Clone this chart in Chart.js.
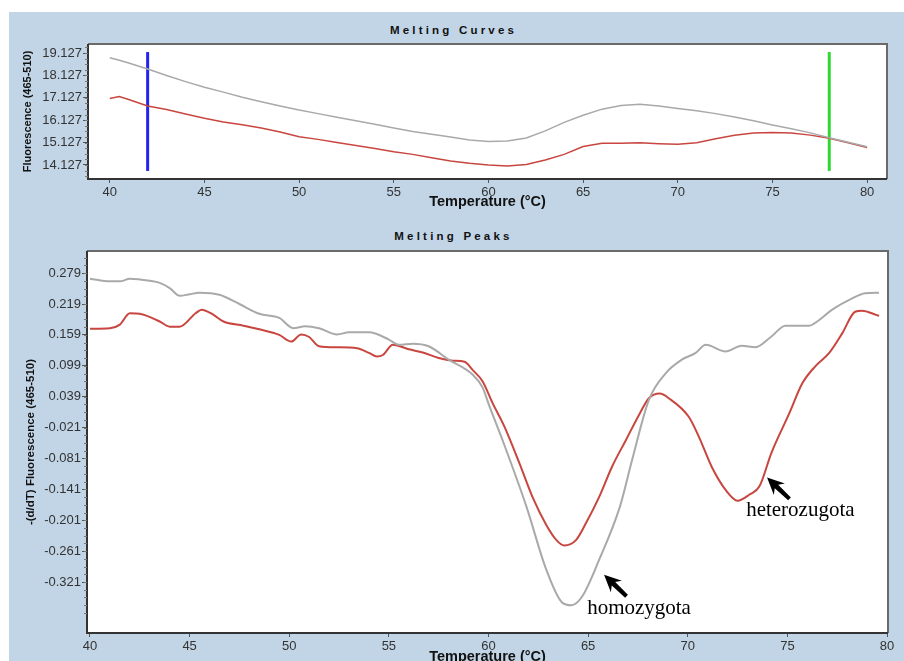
<!DOCTYPE html>
<html>
<head>
<meta charset="utf-8">
<script src="https://cdn.jsdelivr.net/npm/chart.js@4.4.1/dist/chart.umd.min.js"></script>
<style>
  html, body { margin: 0; padding: 0; width: 904px; height: 661px; overflow: hidden; background: #fff; }
  #bg { position: absolute; left: 9px; top: 12px; width: 895px; height: 649px; background: #c2d5e6; }
  .box { position: absolute; left: 0; width: 904px; }
  .ttl { position: absolute; left: 0; width: 904px; padding-left: 3px; box-sizing: border-box; text-align: center;
         font: bold 11.5px "Liberation Sans", Arial, sans-serif; line-height: 13px; letter-spacing: 3.2px; color: #111; }
</style>
</head>
<body>
<div id="bg"></div>
<div class="ttl" style="top:24px">Melting Curves</div>
<div class="ttl" style="top:230px">Melting Peaks</div>
<div class="box" style="top:0;height:215px"><canvas id="curves" width="904" height="215"></canvas></div>
<div class="box" style="top:215px;height:460px"><canvas id="peaks" width="904" height="460"></canvas></div>
<script>
// melting curves (fluorescence vs temperature)
const curveTemps = [40, 40.5, 41, 42, 43, 44, 45, 46, 47, 48, 49, 50, 51, 52, 53, 54, 55, 56, 57, 58, 59, 60,
  61, 62, 63, 64, 65, 66, 67, 68, 69, 70, 71, 72, 73, 74, 75, 76, 77, 78, 79, 80];
const curveGray = [18.92, 18.8, 18.68, 18.41, 18.12, 17.85, 17.6, 17.38, 17.15, 16.95, 16.76, 16.58, 16.42, 16.26,
  16.1, 15.95, 15.78, 15.62, 15.5, 15.38, 15.24, 15.17, 15.2, 15.33, 15.65, 16.03, 16.35, 16.62, 16.78, 16.84,
  16.76, 16.65, 16.55, 16.42, 16.27, 16.1, 15.91, 15.74, 15.56, 15.34, 15.14, 14.94];
const curveRed = [17.1, 17.18, 17.05, 16.76, 16.6, 16.4, 16.21, 16.05, 15.92, 15.78, 15.6, 15.39, 15.27, 15.13,
  15.0, 14.86, 14.72, 14.6, 14.45, 14.3, 14.2, 14.12, 14.08, 14.15, 14.35, 14.6, 14.95, 15.1, 15.1, 15.12,
  15.08, 15.05, 15.12, 15.3, 15.45, 15.55, 15.58, 15.56, 15.46, 15.32, 15.12, 14.91];
const curveYTicks = [14.127, 15.127, 16.127, 17.127, 18.127, 19.127];
const markerTemps = [42, 78];
const markerSpan = [13.86, 19.17];

// melting peaks (-dF/dT vs temperature)
const peakGrayTemps = [40, 41, 41.5, 42, 43, 43.5, 44, 44.5, 45, 45.5, 46.5, 47.5, 48.5, 49.5, 50.2, 50.8, 51.5,
  52.4, 53, 54, 55, 55.5, 56.2, 57, 58, 59.2, 59.7, 60.05, 60.7, 61.9, 62.9, 63.7, 64.15, 64.7, 65.55, 66.6, 67.2,
  68.05, 68.9, 69.7, 70.4, 70.9, 71.9, 72.7, 73.4, 74.2, 74.9, 76.1, 76.6, 77.25, 78.25, 78.9, 79.6];
const peakGray = [0.268, 0.263, 0.263, 0.268, 0.264, 0.26, 0.25, 0.235, 0.238, 0.241, 0.237, 0.219, 0.2, 0.192,
  0.172, 0.176, 0.172, 0.16, 0.164, 0.164, 0.15, 0.14, 0.142, 0.137, 0.111, 0.082, 0.057, 0.02, -0.045, -0.174,
  -0.297, -0.361, -0.366, -0.349, -0.278, -0.174, -0.085, 0.033, 0.085, 0.111, 0.124, 0.14, 0.127, 0.138, 0.135,
  0.156, 0.177, 0.177, 0.188, 0.208, 0.23, 0.24, 0.241];
const peakRedTemps = [40, 41, 41.5, 42, 42.5, 43.5, 44, 44.5, 45.3, 45.6, 46.2, 46.7, 47.7, 48.5, 49.5, 50.1, 50.6,
  51, 51.5, 52.4, 53.4, 54, 54.4, 54.7, 55.2, 56, 56.7, 57.5, 58.2, 58.8, 59.2, 59.7, 60.2, 60.8, 61.55, 62.2, 62.9,
  63.4, 63.8, 64.4, 64.9, 65.55, 66.2, 66.9, 67.6, 68.05, 68.6, 69.05, 70.05, 70.55, 71.2, 71.9, 72.5, 73.1, 73.6,
  74.2, 75.1, 75.75, 76.4, 77.1, 77.75, 78.4, 78.75, 79.45, 79.6];
const peakRed = [0.171, 0.172, 0.179, 0.201, 0.2, 0.185, 0.175, 0.175, 0.201, 0.208, 0.198, 0.185, 0.177, 0.17,
  0.159, 0.146, 0.16, 0.155, 0.137, 0.135, 0.133, 0.124, 0.117, 0.12, 0.14, 0.131, 0.125, 0.114, 0.109, 0.107,
  0.091, 0.069, 0.027, -0.019, -0.09, -0.155, -0.21, -0.239, -0.25, -0.239, -0.206, -0.156, -0.097, -0.045, 0.007,
  0.036, 0.045, 0.036, 0.0, -0.038, -0.097, -0.142, -0.163, -0.151, -0.135, -0.07, 0.007, 0.065, 0.098, 0.124,
  0.162, 0.204, 0.206, 0.198, 0.196];
const peakYTicks = [-0.321, -0.261, -0.201, -0.141, -0.081, -0.021, 0.039, 0.099, 0.159, 0.219, 0.279];
const tempTicks = [40, 45, 50, 55, 60, 65, 70, 75, 80];

const noteLabels = ["homozygota", "heterozugota"];

const pts = (xs, ys) => xs.map((x, i) => ({ x: x, y: ys[i] }));
const sans = '"Liberation Sans", Arial, sans-serif';

// white plot area, frame and minor ticks
const framePlugin = {
  id: "frame",
  beforeDraw(chart) {
    const a = chart.chartArea, ctx = chart.ctx;
    ctx.save();
    ctx.fillStyle = "#fff";
    ctx.fillRect(a.left, a.top, a.right - a.left, a.bottom - a.top);
    ctx.restore();
  },
  afterDraw(chart) {
    const a = chart.chartArea, ctx = chart.ctx, y = chart.scales.y;
    ctx.save();
    ctx.lineWidth = 2;
    ctx.strokeStyle = "#6a6a6a";
    ctx.beginPath();
    ctx.moveTo(a.left, a.top); ctx.lineTo(a.right, a.top); ctx.lineTo(a.right, a.bottom);
    ctx.stroke();
    ctx.strokeStyle = "#333";
    ctx.beginPath();
    ctx.moveTo(a.left, a.top); ctx.lineTo(a.left, a.bottom); ctx.lineTo(a.right, a.bottom);
    ctx.stroke();
    // minor ticks on the y axis
    const major = y.ticks.map(t => t.value);
    const step = (major[1] - major[0]) / 4;
    ctx.lineWidth = 1;
    ctx.strokeStyle = "#777";
    for (let v = major[0] - 4 * step; v <= y.max; v += step) {
      if (v < y.min) continue;
      const p = Math.round(y.getPixelForValue(v)) + 0.5;
      ctx.beginPath(); ctx.moveTo(a.left - 3, p); ctx.lineTo(a.left, p); ctx.stroke();
    }
    ctx.restore();
  }
};

// cursor arrows with labels on the peaks chart
const notePlugin = {
  id: "notes",
  afterDatasetsDraw(chart, args, opts) {
    const ctx = chart.ctx, xs = chart.scales.x, ys = chart.scales.y;
    ctx.save();
    opts.items.forEach((it, i) => {
      const tx = xs.getPixelForValue(it.tip[0]), ty = ys.getPixelForValue(it.tip[1]);
      ctx.save();
      ctx.translate(tx, ty);
      ctx.rotate(Math.atan2(1, 1.05));
      ctx.fillStyle = "#000";
      ctx.beginPath();
      ctx.moveTo(0, 0);
      ctx.lineTo(17, -8);
      ctx.lineTo(13, -2.5);
      ctx.lineTo(31, -2);
      ctx.lineTo(31, 2);
      ctx.lineTo(13, 2.5);
      ctx.lineTo(17, 8);
      ctx.closePath();
      ctx.fill();
      ctx.restore();
      ctx.fillStyle = "#000";
      ctx.font = '21px "Liberation Serif", "Times New Roman", serif';
      ctx.textBaseline = "alphabetic";
      ctx.fillText(noteLabels[i], xs.getPixelForValue(it.text[0]), ys.getPixelForValue(it.text[1]));
    });
    ctx.restore();
  }
};

function axisX(min, max, height, titlePad) {
  return {
    type: "linear", min: min, max: max,
    afterBuildTicks: ax => { ax.ticks = tempTicks.map(v => ({ value: v })); },
    afterFit: ax => { ax.height = height; },
    border: { display: false },
    grid: { drawOnChartArea: false, tickLength: 4, tickColor: "#555" },
    ticks: { padding: 2, color: "#333", font: { family: sans, size: 13 }, callback: v => String(v) },
    title: { display: true, text: "Temperature (°C)", color: "#111",
      font: { family: sans, size: 14.5, weight: "bold" }, padding: { top: 0, bottom: titlePad } }
  };
}

function axisY(min, max, tickVals, width, label, fontSize, titlePad) {
  return {
    min: min, max: max,
    afterBuildTicks: ax => { ax.ticks = tickVals.map(v => ({ value: v })); },
    afterFit: ax => { ax.width = width; },
    border: { display: false },
    grid: { drawOnChartArea: false, tickLength: 5, tickColor: "#555" },
    ticks: { padding: 1, color: "#333", font: { family: sans, size: 13 }, callback: v => v.toFixed(3) },
    title: { display: true, text: label, color: "#111",
      font: { family: sans, size: fontSize, weight: "bold" }, padding: { top: titlePad, bottom: 0 } }
  };
}

const common = {
  responsive: false,
  animation: false,
  devicePixelRatio: 1,
  events: [],
  elements: { point: { radius: 0 } },
};

new Chart(document.getElementById("curves"), {
  type: "line",
  data: {
    datasets: [
      { data: pts(curveTemps, curveGray), borderColor: "#a9a9a9", borderWidth: 1.5, tension: 0 },
      { data: pts(curveTemps, curveRed), borderColor: "#c8463f", borderWidth: 1.5, tension: 0 },
      { data: pts([markerTemps[0], markerTemps[0]], markerSpan), borderColor: "#2323f0", borderWidth: 3 },
      { data: pts([markerTemps[1], markerTemps[1]], markerSpan), borderColor: "#2fd82f", borderWidth: 3 },
    ],
  },
  options: {
    ...common,
    layout: { padding: { top: 44, right: 17, left: 0, bottom: 0 } },
    plugins: { legend: { display: false }, tooltip: { enabled: false } },
    scales: {
      x: axisX(38.85, 81.05, 36, 4),
      y: axisY(13.5, 19.53, curveYTicks, 88, "Fluorescence (465-510)", 11, 21.5),
    },
  },
  plugins: [framePlugin],
});

new Chart(document.getElementById("peaks"), {
  type: "line",
  data: {
    datasets: [
      { data: pts(peakGrayTemps, peakGray), borderColor: "#a9a9a9", borderWidth: 2, cubicInterpolationMode: "monotone" },
      { data: pts(peakRedTemps, peakRed), borderColor: "#c8463f", borderWidth: 2, cubicInterpolationMode: "monotone" },
    ],
  },
  options: {
    ...common,
    layout: { padding: { top: 36, right: 16, left: 0, bottom: 0 } },
    plugins: {
      legend: { display: false }, tooltip: { enabled: false },
      notes: { items: [
        { tip: [65.8, -0.307], text: [64.95, -0.383] },
        { tip: [73.98, -0.118], text: [72.93, -0.192] },
      ] },
    },
    scales: {
      x: axisX(39.85, 80.05, 42, 9),
      y: axisY(-0.42, 0.322, peakYTicks, 87, "-(d/dT) Fluorescence (465-510)", 11.5, 24),
    },
  },
  plugins: [framePlugin, notePlugin],
});
</script>
</body>
</html>
